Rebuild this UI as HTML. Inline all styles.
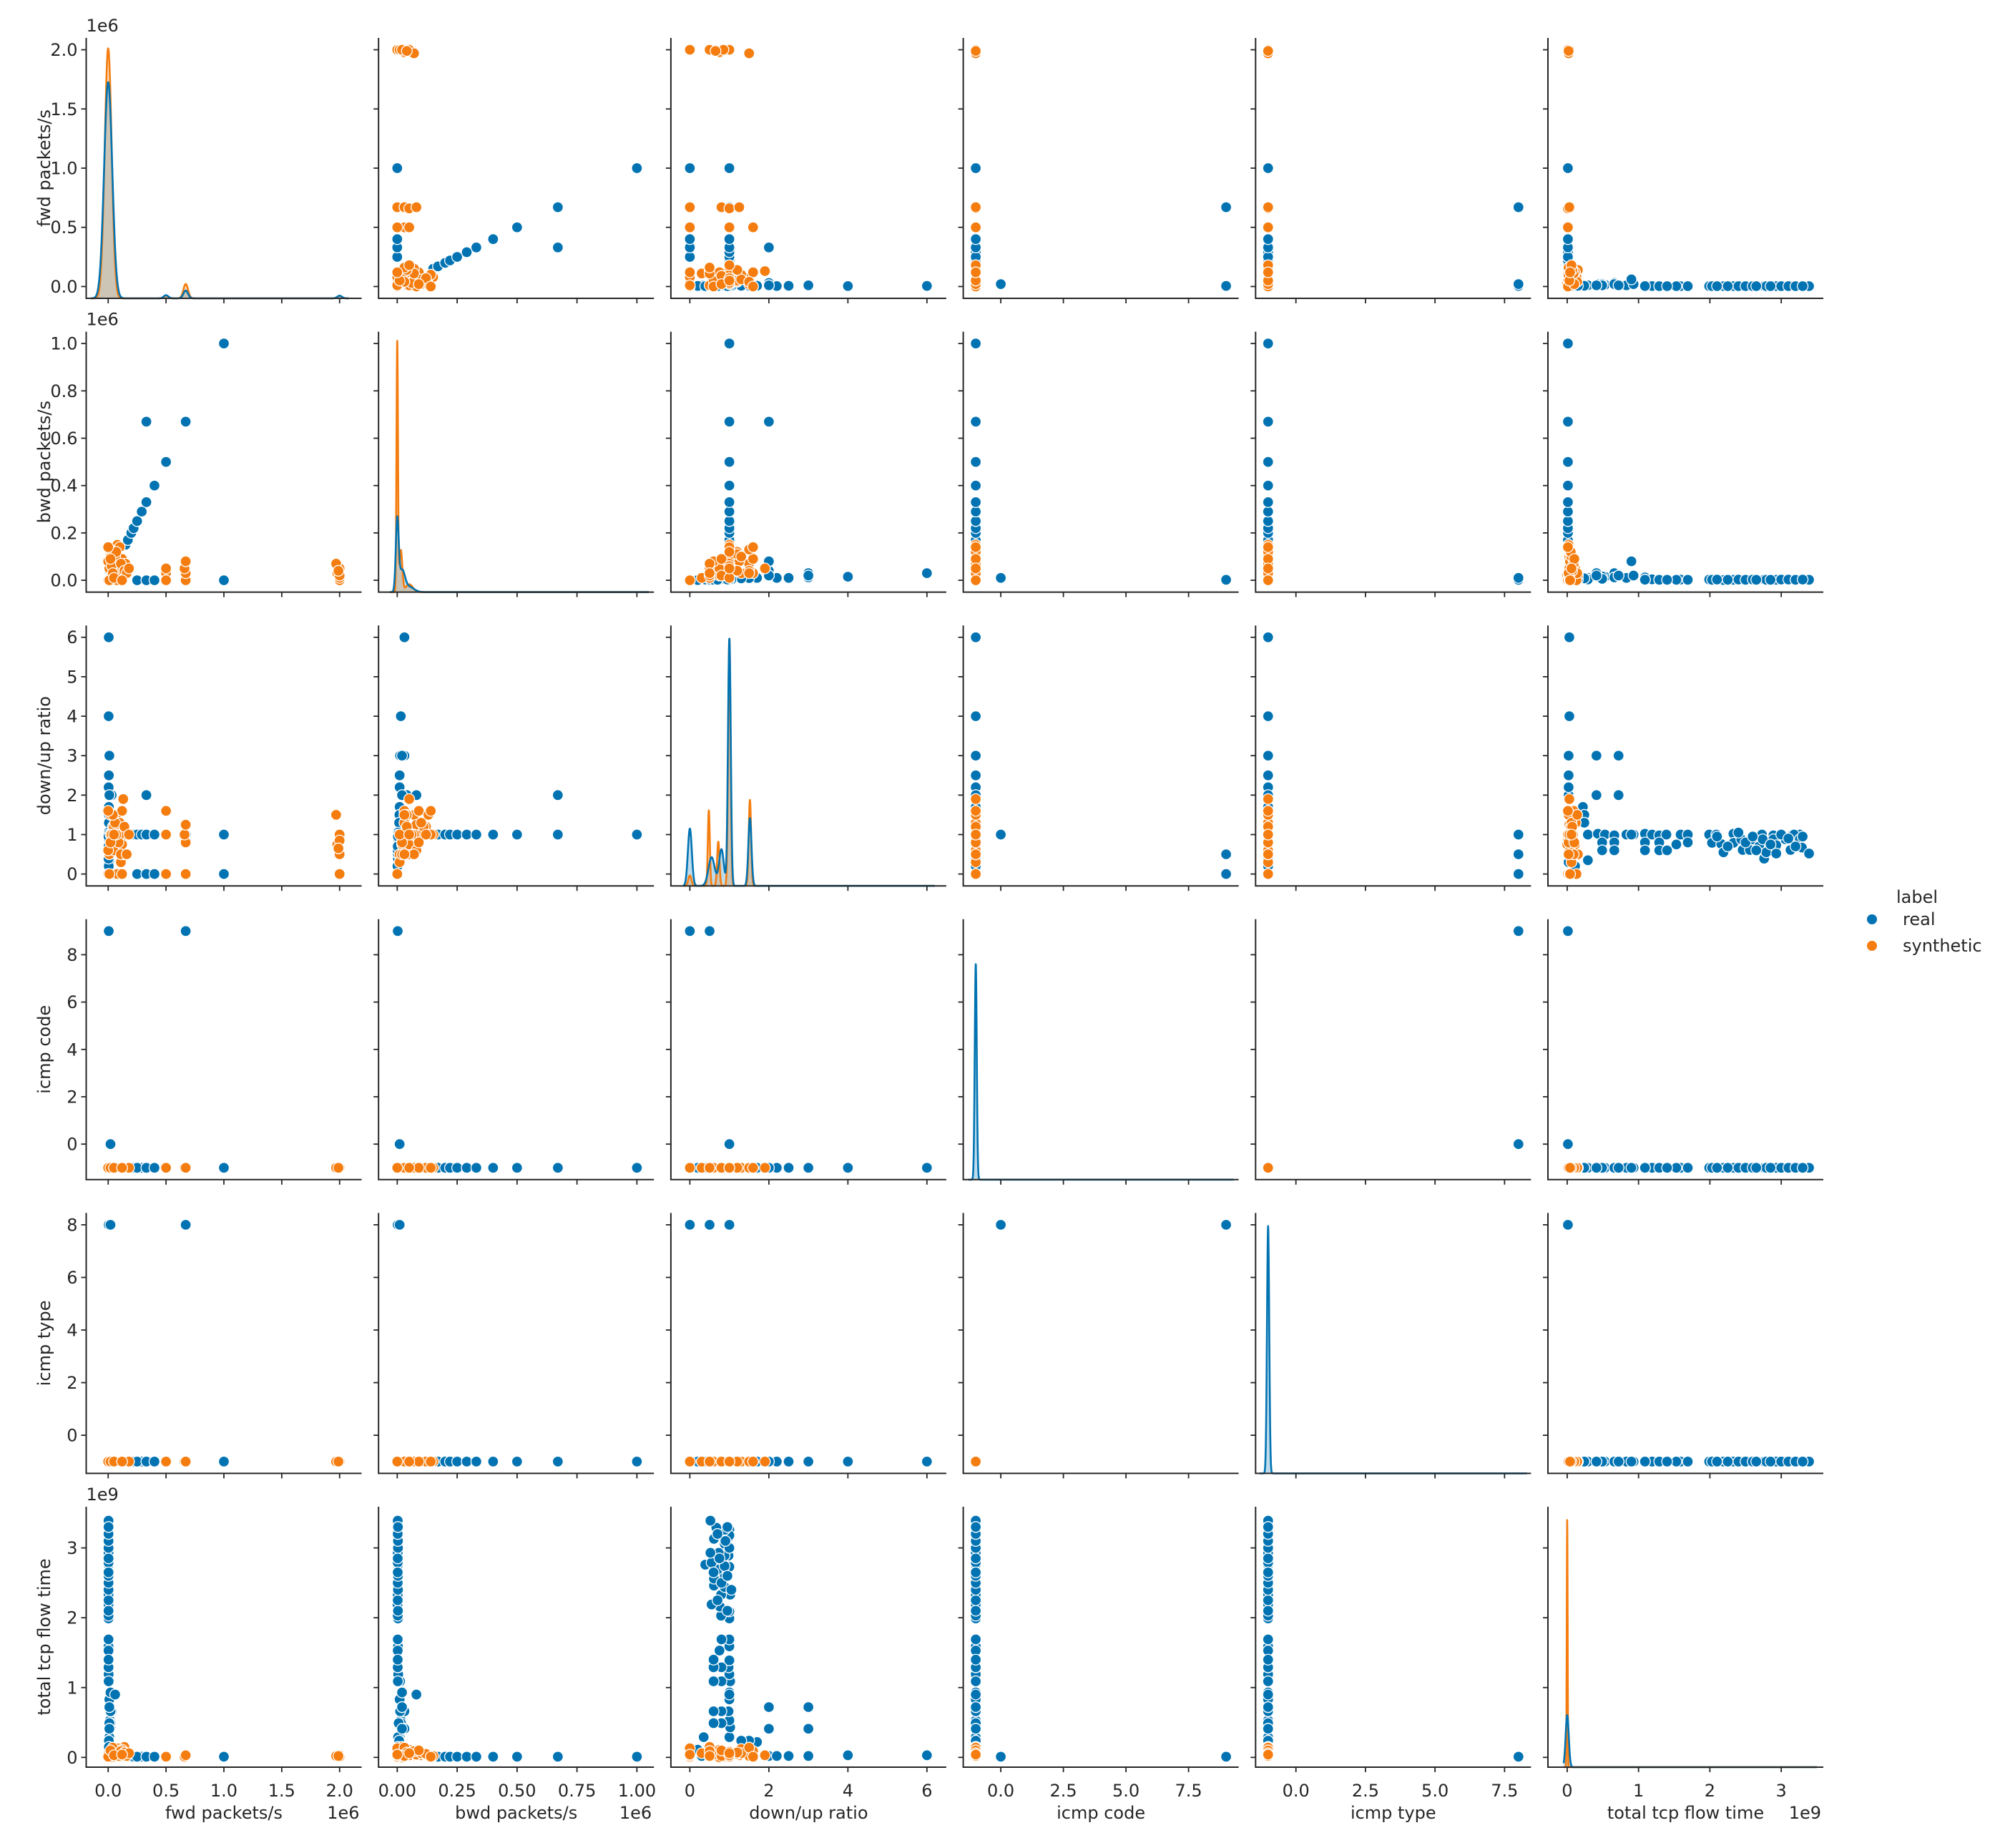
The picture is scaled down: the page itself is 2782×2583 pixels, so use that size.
<!DOCTYPE html>
<html><head><meta charset="utf-8"><title>Pairplot real vs synthetic</title>
<style>
html,body{margin:0;padding:0;background:#fff;}
svg{display:block;font-family:"DejaVu Sans","Liberation Sans",sans-serif;}
</style></head>
<body>
<svg id="chart" xmlns="http://www.w3.org/2000/svg" width="2782" height="2583" viewBox="0 0 2782 2583">
<rect x="0" y="0" width="2782" height="2583" fill="#fff"/>
<g id="legend">
  <text x="2680" y="1262" font-size="24" text-anchor="middle" fill="#262626">label</text>
  <circle cx="2617" cy="1285" r="7" fill="#0173b2"/>
  <text x="2660" y="1293" font-size="24" fill="#262626">real</text>
  <circle cx="2617" cy="1322" r="7" fill="#f57d0f"/>
  <text x="2660" y="1330" font-size="24" fill="#262626">synthetic</text>
</g>
</svg>
<script>
// ---- variable names & tick data ----
const varNames = ['fwd packets/s','bwd packets/s','down/up ratio','icmp code','icmp type','total tcp flow time'];
const varSlugs = ['fwd-packets','bwd-packets','down-up-ratio','icmp-code','icmp-type','total-tcp-flow-time'];
const xTicks = [[0,0.5,1,1.5,2],[0,0.25,0.5,0.75,1],[0,2,4,6],[0,2.5,5,7.5],[0,2.5,5,7.5],[0,1,2,3]];
const xTickLabels = [['0.0','0.5','1.0','1.5','2.0'],['0.00','0.25','0.50','0.75','1.00'],['0','2','4','6'],['0.0','2.5','5.0','7.5'],['0.0','2.5','5.0','7.5'],['0','1','2','3']];
const yTicks = [[0,0.5,1,1.5,2],[0,0.2,0.4,0.6,0.8,1],[0,1,2,3,4,5,6],[0,2,4,6,8],[0,2,4,6,8],[0,1,2,3]];
const yTickLabels = [['0.0','0.5','1.0','1.5','2.0'],['0.0','0.2','0.4','0.6','0.8','1.0'],['0','1','2','3','4','5','6'],['0','2','4','6','8'],['0','2','4','6','8'],['0','1','2','3']];
const offsetLabels = ['1e6','1e6','','','','1e9'];

// ---- real records (fwd in 1e6, bwd in 1e6, ratio, code, type, time in 1e9) ----
const realFwd = [0.15,0.17,0.2,0.22,0.25,0.29,0.33,0.4,0.5,0.67,1.0,0.33,0.25,0.33,0.4,1.0,
 0.005,0.004,0.006,0.005,0.004,0.03,0.01,0.005,0.004,0.006,0.005,0.004,0.005,
 0.67,0.005,0.02,
 0.01,0.02,0.015,0.03,0.01,0.02,0.012,0.004,0.004,0.003,0.003,0.003,0.003,0.003,0.003,0.003,0.003,0.003,0.003,
 0.02,0.015,0.004,0.003,0.003,0.003,0.01,0.02,0.004,0.003,0.003,0.01,
 0.005,0.06,0.01,0.01,0.01,0.01,0.006,0.006,0.006,0.006,
 0.003,0.003,0.003,0.003,0.003,0.003,0.003,0.003,0.003,0.003,0.003,0.003,0.003,0.003,0.003,0.003,0.003,0.003,0.003,0.003,0.003,
 0.003,0.003,0.003,0.003,0.003,0.003,0.003,0.003,0.003,0.003,0.003];
const realBwd = [0.15,0.17,0.2,0.22,0.25,0.29,0.33,0.4,0.5,0.67,1.0,0.67,0,0,0,0,
 0.0,0.002,0.003,0.005,0.006,0.02,0.04,0.08,0.01,0.01,0.012,0.015,0.03,
 0.0,0.002,0.01,
 0.01,0.02,0.015,0.03,0.01,0.02,0.012,0.004,0.004,0.003,0.003,0.003,0.003,0.003,0.003,0.003,0.003,0.003,0.003,
 0.016,0.012,0.003,0.002,0.002,0.002,0.006,0.012,0.0025,0.002,0.002,0.0035,
 0.001,0.08,0.03,0.02,0.02,0.02,0.01,0.009,0.008,0.003,
 0.002,0.002,0.001,0.002,0.003,0.002,0.002,0.003,0.002,0.002,0.003,0.002,0.001,0.002,0.002,0.003,0.002,0.002,0.003,0.002,0.002,
 0.003,0.002,0.003,0.002,0.003,0.002,0.002,0.003,0.003,0.002,0.003];
const realRatio = [1,1,1,1,1,1,1,1,1,1,1,2,0,0,0,0,
 0,0.3,0.5,1,1.5,2,2,2,2.2,2.5,3,4,6,
 0,0.5,1,
 1,1.02,1,0.98,1,1,1.02,1,0.98,1,1,1,1,1,1.02,1,0.98,1,1,
 0.8,0.8,0.8,0.8,0.8,0.75,0.6,0.6,0.6,0.6,0.6,0.35,
 0.2,1.0,3,3,2,2,1.7,1.5,1.3,0.5,
 0.79,0.76,0.55,0.79,0.88,0.61,0.61,0.88,0.7,0.88,0.39,0.55,0.88,0.73,0.52,0.88,0.61,1.0,0.88,0.67,0.52,
 0.95,0.7,1.05,0.8,0.95,0.6,0.75,1.0,0.9,0.7,0.95];
const realCode = [-1,-1,-1,-1,-1,-1,-1,-1,-1,-1,-1,-1,-1,-1,-1,-1,
 -1,-1,-1,-1,-1,-1,-1,-1,-1,-1,-1,-1,-1,
 9,9,0,
 -1,-1,-1,-1,-1,-1,-1,-1,-1,-1,-1,-1,-1,-1,-1,-1,-1,-1,-1,
 -1,-1,-1,-1,-1,-1,-1,-1,-1,-1,-1,-1,
 -1,-1,-1,-1,-1,-1,-1,-1,-1,-1,
 -1,-1,-1,-1,-1,-1,-1,-1,-1,-1,-1,-1,-1,-1,-1,-1,-1,-1,-1,-1,-1,
 -1,-1,-1,-1,-1,-1,-1,-1,-1,-1,-1];
const realType = [-1,-1,-1,-1,-1,-1,-1,-1,-1,-1,-1,-1,-1,-1,-1,-1,
 -1,-1,-1,-1,-1,-1,-1,-1,-1,-1,-1,-1,-1,
 8,8,8,
 -1,-1,-1,-1,-1,-1,-1,-1,-1,-1,-1,-1,-1,-1,-1,-1,-1,-1,-1,
 -1,-1,-1,-1,-1,-1,-1,-1,-1,-1,-1,-1,
 -1,-1,-1,-1,-1,-1,-1,-1,-1,-1,
 -1,-1,-1,-1,-1,-1,-1,-1,-1,-1,-1,-1,-1,-1,-1,-1,-1,-1,-1,-1,-1,
 -1,-1,-1,-1,-1,-1,-1,-1,-1,-1,-1];
const realTime = [0.01,0.01,0.01,0.01,0.01,0.01,0.01,0.01,0.01,0.01,0.01,0.01,0.01,0.01,0.01,0.01,
 0.02,0.02,0.02,0.02,0.02,0.02,0.02,0.02,0.02,0.02,0.02,0.03,0.03,
 0.01,0.01,0.01,
 0.29,0.43,0.53,0.66,0.83,0.93,1.09,1.19,1.29,1.39,1.59,1.69,1.99,2.09,2.33,2.73,2.89,3.16,3.26,
 0.49,0.66,1.09,1.29,1.69,1.53,0.49,0.66,1.09,1.29,1.4,0.29,
 0.11,0.9,0.41,0.72,0.41,0.72,0.22,0.24,0.24,0.15,
 2.03,2.16,2.19,2.33,2.44,2.46,2.56,2.59,2.69,2.74,2.76,2.79,2.89,2.93,2.93,3.06,3.13,3.18,3.26,3.29,3.39,
 2.1,2.25,2.4,2.5,2.6,2.65,2.85,3.0,3.1,3.2,3.3];

// ---- synthetic records ----
const synFwd = [2.0,2.0,1.98,2.0,1.97,2.0,1.99, 0.67,0.67,0.66,0.67, 0.5,0.5,0.5,
 0.0,0.01,0.02,0.03,0.04,0.05,0.06,0.07,0.08,0.09,0.1,0.11,0.12,0.13,0.14,0.15,0.02,0.05,0.08,0.1,0.12,0.0,0.03,0.06,0.09,0.01,0.04,0.07,0.11,0.14,0.0,0.02,0.05,0.16,0.18,0.12];
const synBwd = [0.0,0.01,0.03,0.05,0.07,0.02,0.04, 0.0,0.03,0.05,0.08, 0.03,0.05,0.0,
 0.0,0.05,0.1,0.02,0.12,0.08,0.0,0.04,0.15,0.06,0.03,0.01,0.09,0.05,0.02,0.07,0.13,0.11,0.0,0.14,0.05,0.08,0.06,0.1,0.02,0.0,0.03,0.12,0.07,0.04,0.14,0.09,0.01,0.03,0.05,0.0];
const synRatio = [0,0.5,0.75,1.0,1.5,0.85,0.65, 0,0.8,1.0,1.25, 1.6,1.0,0,
 0,0.5,1.0,0.75,1.2,0.6,0,1.5,1.0,0.8,1.3,0.3,1.6,1.9,0.5,1.0,1.5,1.2,0,1.0,0.75,0.6,1.0,1.3,0.8,0,1.5,1.0,0.5,1.2,1.6,0.8,1.0,0.5,1.0,0];
const synCode = [-1,-1,-1,-1,-1,-1,-1,-1,-1,-1,-1,-1,-1,-1,
 -1,-1,-1,-1,-1,-1,-1,-1,-1,-1,-1,-1,-1,-1,-1,-1,-1,-1,-1,-1,-1,-1,-1,-1,-1,-1,-1,-1,-1,-1,-1,-1,-1,-1,-1,-1];
const synType = [-1,-1,-1,-1,-1,-1,-1,-1,-1,-1,-1,-1,-1,-1,
 -1,-1,-1,-1,-1,-1,-1,-1,-1,-1,-1,-1,-1,-1,-1,-1,-1,-1,-1,-1,-1,-1,-1,-1,-1,-1,-1,-1,-1,-1,-1,-1,-1,-1,-1,-1];
const synTime = [0.01,0.02,0.01,0.03,0.02,0.01,0.02, 0.01,0.02,0.01,0.03, 0.02,0.01,0.01,
 0.01,0.02,0.03,0.0,0.05,0.08,0.01,0.1,0.02,0.04,0.12,0.06,0.09,0.03,0.15,0.07,0.02,0.05,0.13,0.01,0.11,0.04,0.08,0.06,0.02,0.03,0.14,0.05,0.09,0.07,0.01,0.1,0.03,0.02,0.06,0.04];

// ---- diagonal density components (center, peak height as fraction of panel, width) ----
const kdeRealCenters = [[0,0.5,0.67,2.0],[0,0.02,0.05],[0,0.55,0.8,1.0,1.52],[-1],[-1],[0]];
const kdeRealHeights = [[0.83,0.012,0.03,0.01],[0.27,0.08,0.02],[0.22,0.11,0.14,0.95,0.26],[0.83],[0.95],[0.2]];
const kdeRealWidths  = [[0.035,0.02,0.02,0.02],[0.006,0.012,0.02],[0.05,0.08,0.06,0.035,0.04],[0.04],[0.04],[0.022]];
const kdeSynCenters = [[0,0.5,0.67,2.0],[0,0.015,0.05],[0,0.48,0.72,1.0,1.52],[],[],[0]];
const kdeSynHeights = [[0.96,0.01,0.055,0.01],[0.96,0.16,0.03],[0.04,0.29,0.17,0.95,0.33],[],[],[0.95]];
const kdeSynWidths  = [[0.03,0.02,0.02,0.02],[0.003,0.006,0.015],[0.04,0.025,0.03,0.03,0.03],[],[],[0.006]];

// ---- layout / scales ----
const COL_L = 120.5, COL_P = 408.7, W = 385;
const ROW_T = 53, ROW_P = 410.6, H = 364;
const xLims = [[-0.19,2.19],[-0.078,1.071],[-0.48,6.49],[-1.5,9.5],[-1.45,8.45],[-0.27,3.59]];
const yLims = [[-0.1,2.1],[-0.05,1.05],[-0.3,6.3],[-1.5,9.5],[-1.45,8.45],[-0.14,3.59]];
const kdeDomain = [[-0.15,2.08],[-0.03,1.05],[-0.17,6.2],[-1.3,9.3],[-1.3,8.3],[-0.05,3.5]];
const BLUE = '#0173b2', ORANGE = '#f57d0f', INK = '#262626';
const NS = 'http://www.w3.org/2000/svg';
const svg = document.getElementById('chart');
const legend = document.getElementById('legend');

function mk(tag, attrs, parent){const e=document.createElementNS(NS,tag);for(const k in attrs)e.setAttribute(k,attrs[k]);(parent||svg).appendChild(e);return e;}
function xScale(c,v){const l=COL_L+c*COL_P;return l+(v-xLims[c][0])/(xLims[c][1]-xLims[c][0])*W;}
function yScale(r,v){const t=ROW_T+r*ROW_P;return t+H-(v-yLims[r][0])/(yLims[r][1]-yLims[r][0])*H;}

const realCols = [realFwd,realBwd,realRatio,realCode,realType,realTime];
const synCols = [synFwd,synBwd,synRatio,synCode,synType,synTime];

function density(c, centers, heights, widths, x){let s=0;for(let k=0;k<centers.length;k++){const d=(x-centers[k])/widths[k];s+=heights[k]*Math.exp(-0.5*d*d);}return s;}

for(let r=0;r<6;r++){
  for(let c=0;c<6;c++){
    const l=COL_L+c*COL_P, t=ROW_T+r*ROW_P;
    const g=mk('g',{});
    
    
    if(r===c){
      const bottom=t+H;
      const series=[[kdeRealCenters,kdeRealHeights,kdeRealWidths,BLUE,'real'],[kdeSynCenters,kdeSynHeights,kdeSynWidths,ORANGE,'synthetic']];
      const lines=[];
      for(const [C,Hh,Ww,col,nm] of series){
        if(C[c].length===0) continue;
        const [a,b]=kdeDomain[c];const N=1500;let pts=[];
        for(let i=0;i<=N;i++){const x=a+(b-a)*i/N;const y=density(c,C[c],Hh[c],Ww[c],x);pts.push([xScale(c,x),bottom-y*H]);}
        const line=pts.map(p=>p[0].toFixed(2)+','+p[1].toFixed(2)).join(' ');
        const fill=mk('polygon',{points:pts[0][0].toFixed(2)+','+bottom+' '+line+' '+pts[N][0].toFixed(2)+','+bottom,fill:col,'fill-opacity':0.25,stroke:'none'},g);
        
        
        lines.push([line,col,nm]);
      }
      for(let i=lines.length-1;i>=0;i--){
        const [line,col,nm]=lines[i];
        const pl=mk('polyline',{points:line,fill:'none',stroke:col,'stroke-width':2.6,'stroke-linejoin':'round'},g);
        
        
      }
    } else {
      const sets=[[realCols,BLUE,'real'],[synCols,ORANGE,'synthetic']];
      for(const [cols,col,nm] of sets){
        const xs=cols[c], ys=cols[r];
        for(let i=0;i<xs.length;i++){
          const p=mk('circle',{cx:xScale(c,xs[i]).toFixed(2),cy:yScale(r,ys[i]).toFixed(2),r:7.5,fill:col,stroke:'#fff','stroke-width':1.3},g);
          
          
        }
      }
    }
    // spines
    const sp=mk('path',{d:'M'+l+','+t+' L'+l+','+(t+H)+' L'+(l+W)+','+(t+H),fill:'none',stroke:INK,'stroke-width':2},g);
    
    
    // x ticks
    for(let k=0;k<xTicks[c].length;k++){
      const x=xScale(c,xTicks[c][k]);
      const tk=mk('line',{x1:x,y1:t+H,x2:x,y2:t+H+7,stroke:INK,'stroke-width':1.8},g);
      
      
      if(r===5){
        const tl=mk('text',{x:x,y:t+H+41,'font-size':24,'text-anchor':'middle',fill:INK},g);
        tl.textContent=xTickLabels[c][k];
        
        
      }
    }
    // y ticks
    for(let k=0;k<yTicks[r].length;k++){
      const y=yScale(r,yTicks[r][k]);
      const tk=mk('line',{x1:l-7,y1:y,x2:l,y2:y,stroke:INK,'stroke-width':1.8},g);
      
      
      if(c===0){
        const tl=mk('text',{x:l-12,y:y+8.5,'font-size':24,'text-anchor':'end',fill:INK},g);
        tl.textContent=yTickLabels[r][k];
        
        
      }
    }
  }
}
// axis titles and offsets
for(let c=0;c<6;c++){
  const l=COL_L+c*COL_P;
  const xt=mk('text',{x:l+W/2,y:2542,'font-size':24,'text-anchor':'middle',fill:INK});
  xt.textContent=varNames[c];
  
  
  if(offsetLabels[c]){
    const o=mk('text',{x:l+W-3,y:2542,'font-size':24,'text-anchor':'end',fill:INK});
    o.textContent=offsetLabels[c];
    
    
  }
}
for(let r=0;r<6;r++){
  const t=ROW_T+r*ROW_P;
  const yt=mk('text',{x:0,y:0,'font-size':24,'text-anchor':'middle',fill:INK,transform:'translate(70,'+(t+H/2)+') rotate(-90)'});
  yt.textContent=varNames[r];
  
  
  if(offsetLabels[r]){
    const o=mk('text',{x:COL_L,y:t-9,'font-size':24,'text-anchor':'start',fill:INK});
    o.textContent=offsetLabels[r];
    
    
  }
}
svg.appendChild(legend);
</script>
</body></html>
